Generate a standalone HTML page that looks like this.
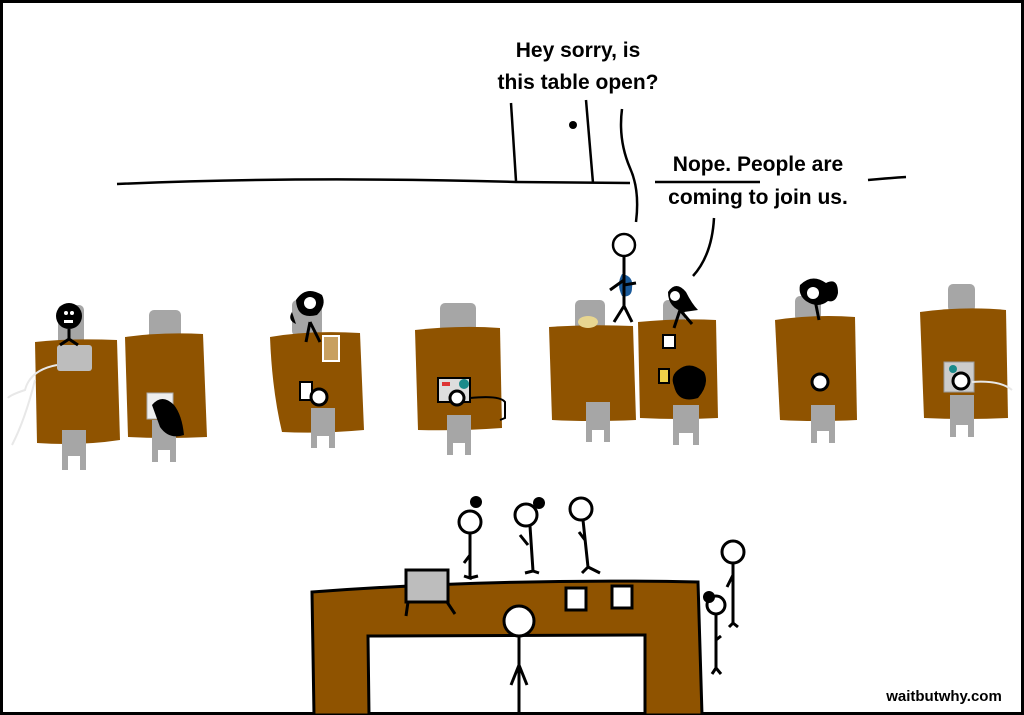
<!DOCTYPE html>
<html><head><meta charset="utf-8"><style>
html,body{margin:0;padding:0;background:#fff;}
svg{display:block;}
text{font-family:"Liberation Sans",sans-serif;}
</style></head><body>
<svg width="1024" height="715" viewBox="0 0 1024 715" xmlns="http://www.w3.org/2000/svg">
<rect x="1.5" y="1.5" width="1021" height="712" fill="#fff" stroke="#000" stroke-width="3"/>
<g font-size="21" fill="#000" text-anchor="middle" font-weight="bold">
<text x="578" y="57">Hey sorry, is</text>
<text x="578" y="89">this table open?</text>
<text x="758" y="171">Nope. People are</text>
<text x="758" y="204">coming to join us.</text>
</g>
<g fill="none" stroke="#000" stroke-width="2.5">
<path d="M117 184 Q300 176 516 182 L630 183"/>
<path d="M655 182 L760 182"/>
<path d="M868 180 Q890 178 906 177"/>
<path d="M511 103 L516 181"/>
<path d="M586 100 L593 183"/>
<path d="M622 109 Q618 140 630 168 Q640 190 636 222"/>
<path d="M714 218 Q712 255 693 276"/>
</g>
<circle cx="573" cy="125" r="4" fill="#000"/>

<g fill="#a6a6a6">
<rect x="58" y="305" width="26" height="40" rx="5"/>
<rect x="149" y="310" width="32" height="30" rx="5"/>
<rect x="292" y="300" width="30" height="36" rx="5"/>
<rect x="440" y="303" width="36" height="30" rx="5"/>
<rect x="575" y="300" width="30" height="30" rx="5"/>
<rect x="663" y="300" width="22" height="25" rx="5"/>
<rect x="795" y="296" width="26" height="25" rx="5"/>
<rect x="948" y="284" width="27" height="28" rx="5"/>
</g>
<g fill="#8f5300">
<path d="M35 342 Q70 338 117 340 L120 440 Q80 446 37 443 Z"/>
<path d="M125 337 Q160 332 203 334 L207 437 Q165 439 128 437 Z"/>
<path d="M270 337 Q310 330 360 333 L364 430 Q320 434 282 432 Q272 390 270 337 Z"/>
<path d="M415 330 Q460 325 500 328 L502 428 Q460 431 418 430 Z"/>
<path d="M549 327 Q590 324 633 326 L636 420 Q590 422 552 420 Z"/>
<path d="M638 322 Q680 318 716 320 L718 418 Q680 420 640 418 Z"/>
<path d="M775 320 Q815 314 855 317 L857 420 Q815 422 780 420 Z"/>
<path d="M920 312 Q965 306 1006 310 L1008 418 Q965 420 924 418 Z"/>
</g>
<g fill="#a6a6a6">
<path d="M62 430 h24 v40 h-6 v-14 h-12 v14 h-6z"/>
<path d="M152 420 h24 v42 h-6 v-12 h-12 v12 h-6z"/>
<path d="M311 408 h24 v40 h-6 v-12 h-12 v12 h-6z"/>
<path d="M447 415 h24 v40 h-6 v-12 h-12 v12 h-6z"/>
<path d="M586 402 h24 v40 h-6 v-12 h-12 v12 h-6z"/>
<path d="M673 405 h26 v40 h-6 v-12 h-14 v12 h-6z"/>
<path d="M811 405 h24 v38 h-6 v-12 h-12 v12 h-6z"/>
<path d="M950 395 h24 v42 h-6 v-12 h-12 v12 h-6z"/>
</g>
<rect x="57" y="345" width="35" height="26" fill="#bdbdbd" rx="3"/>
<path d="M57 365 Q30 370 25 390 Q10 395 8 398 M35 380 Q25 420 12 445" stroke="#e8e8e8" stroke-width="2" fill="none"/>
<rect x="147" y="393" width="26" height="26" fill="#eee" stroke="#aaa"/>
<rect x="438" y="378" width="32" height="24" fill="#ddd" stroke="#000" stroke-width="2"/>
<rect x="442" y="382" width="8" height="4" fill="#d33"/>
<circle cx="464" cy="384" r="5" fill="#1a8a8a"/>
<path d="M470 398 Q500 395 505 402 L505 418 L500 420" stroke="#000" stroke-width="2" fill="none"/>
<rect x="944" y="362" width="30" height="30" fill="#ccc" stroke="#999"/>
<circle cx="953" cy="369" r="4" fill="#1a8a8a"/>
<path d="M972 382 Q1000 380 1012 390" stroke="#e8e8e8" stroke-width="2" fill="none"/>
<rect x="323" y="336" width="16" height="25" fill="#c8a060" stroke="#fff" stroke-width="2"/>
<rect x="659" y="369" width="10" height="14" fill="#f0d34a" stroke="#000" stroke-width="2"/>
<rect x="663" y="335" width="12" height="13" fill="#fff" stroke="#000" stroke-width="2"/>
<rect x="300" y="382" width="12" height="18" fill="#fff" stroke="#000" stroke-width="2"/>
<ellipse cx="588" cy="322" rx="10" ry="6" fill="#e8d690"/>
<g fill="#000">
<circle cx="69" cy="316" r="13"/>
<path d="M152 405 q10 -12 22 0 q8 10 10 30 q-15 5 -24 -8z"/>
<path d="M296 300 q10 -15 26 -5 q5 10 -5 20 q-20 5 -21 -15z M292 312 q-5 8 4 12z"/>
<path d="M668 292 q8 -12 18 0 q6 12 12 18 l-14 2 q-16 -4 -16 -20z"/>
<path d="M678 370 q12 -10 26 2 q6 12 -6 26 q-20 6 -24 -12 q-4 -10 4 -16z"/>
<path d="M800 285 q12 -12 26 -2 q12 -6 12 10 q-2 10 -10 8 q-10 8 -22 0 q-8 -6 -6 -16z"/>
</g>
<g fill="#fff">
<circle cx="310" cy="303" r="6"/>
<circle cx="675" cy="296" r="5"/>
<circle cx="813" cy="293" r="6"/>
</g>
<g fill="none" stroke="#000" stroke-width="3">
<circle cx="319" cy="397" r="8" fill="#fff"/>
<circle cx="457" cy="398" r="7" fill="#fff"/>
<circle cx="820" cy="382" r="8" fill="#fff"/>
<circle cx="961" cy="381" r="8" fill="#fff"/>
<path d="M69 329 v10 M60 345 l9 -6 l9 6"/>
<path d="M310 322 l-4 20 M310 322 l10 20"/>
<path d="M680 310 l-6 18 M680 310 l12 14"/>
<path d="M815 300 l4 20"/>
</g>
<g fill="#fff"><circle cx="66" cy="313" r="2"/><circle cx="72" cy="313" r="2"/><rect x="64" y="320" width="9" height="3"/></g>
<circle cx="624" cy="245" r="11" fill="#fff" stroke="#000" stroke-width="2.5"/>
<path d="M622 274 q-6 10 0 22 q10 2 10 -8 q2 -12 -10 -14z" fill="#1a5a9a"/>
<g stroke="#000" stroke-width="3" fill="none">
<path d="M624 256 v50 l-10 16 M624 306 l8 16 M624 280 l-14 10 M624 285 l12 -2"/>
</g>
<path d="M312 592 Q500 578 698 582 L702 715 L645 715 L645 635 L368 636 L369 715 L314 715 Z" fill="#8f5300" stroke="#000" stroke-width="3"/>
<rect x="406" y="570" width="42" height="32" fill="#bdbdbd" stroke="#000" stroke-width="3"/>
<path d="M408 602 l-2 14 M447 602 l8 12" stroke="#000" stroke-width="3"/>
<rect x="566" y="588" width="20" height="22" fill="#fff" stroke="#000" stroke-width="3"/>
<rect x="612" y="586" width="20" height="22" fill="#fff" stroke="#000" stroke-width="3"/>
<circle cx="519" cy="621" r="15" fill="#fff" stroke="#000" stroke-width="3"/>
<path d="M519 636 v78 M519 665 l-8 20 M519 665 l8 20" stroke="#000" stroke-width="3" fill="none"/>
<g stroke="#000" stroke-width="3" fill="#fff">
<circle cx="470" cy="522" r="11"/>
<circle cx="526" cy="515" r="11"/>
<circle cx="581" cy="509" r="11"/>
<circle cx="733" cy="552" r="11"/>
<circle cx="716" cy="605" r="9"/>
</g>
<g fill="#000">
<circle cx="476" cy="502" r="6"/><circle cx="539" cy="503" r="6"/><circle cx="709" cy="597" r="6"/>
</g>
<g stroke="#000" stroke-width="3" fill="none">
<path d="M470 533 v45 l-6 -2 M470 578 l8 -2 M470 555 l-6 8"/>
<path d="M530 526 l3 45 l-8 2 M533 571 l6 2 M528 545 l-8 -10"/>
<path d="M583 520 l5 47 l-6 6 M588 567 l12 6 M585 540 l-6 -8"/>
<path d="M733 563 v60 l-4 4 M733 623 l5 4 M733 575 l-6 12"/>
<path d="M716 614 v54 l-4 6 M716 668 l5 6 M716 640 l5 -4"/>
</g>
<text x="944" y="701" font-size="15" font-weight="bold" text-anchor="middle">waitbutwhy.com</text>
</svg>
</body></html>
